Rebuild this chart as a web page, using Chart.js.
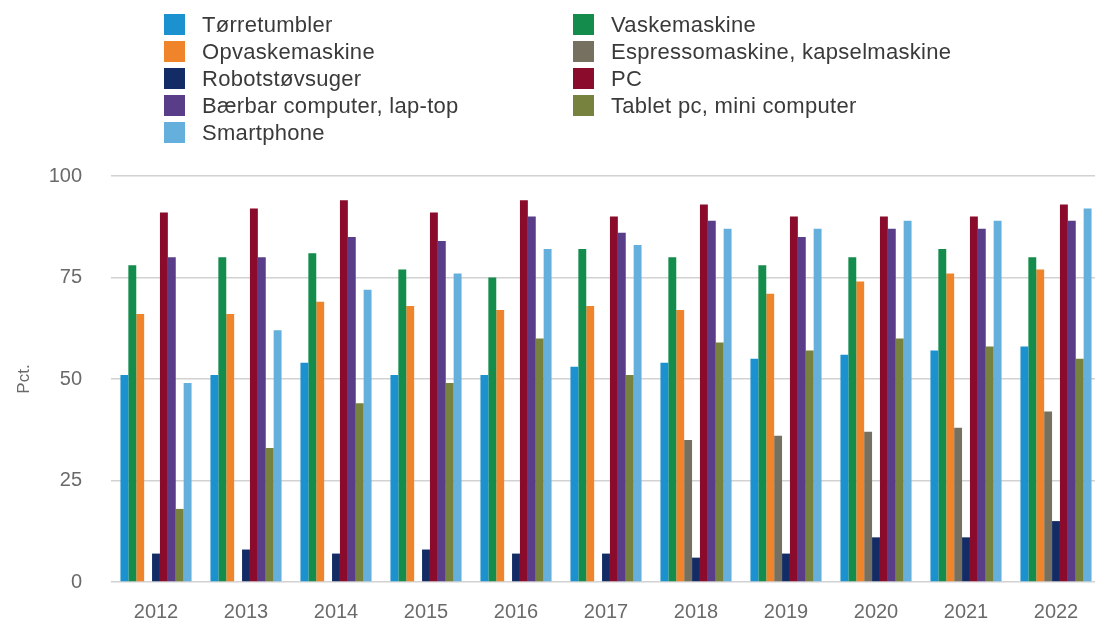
<!DOCTYPE html>
<html>
<head>
<meta charset="utf-8">
<script src="https://cdn.jsdelivr.net/npm/chart.js@4"></script>
<style>
  html, body { margin:0; padding:0; background:#fff; overflow:hidden; width:1095px; height:619px; }
  #wrap { position:relative; width:1101px; height:624px; }
  #chart { position:absolute; left:0; top:0; }
  .lg { position:absolute; font-family:"Liberation Sans", Arial, sans-serif; font-size:22px; letter-spacing:0.3px; color:#3a3a3a; line-height:21px; white-space:nowrap; }
  .lg i { position:absolute; left:0; top:0; width:21px; height:21px; }
  .lg span { position:absolute; left:38px; top:0; }
</style>
</head>
<body>
<div id="wrap">
  <canvas id="chart" width="1101" height="624"></canvas>
  <div id="legend"></div>
</div>
<script>
/* ---- data ---- */
const years = ['2012','2013','2014','2015','2016','2017','2018','2019','2020','2021','2022'];

const torretumbler = [51, 51, 54, 51, 51, 53, 54, 55, 56, 57, 58];
const vaskemaskine = [78, 80, 81, 77, 75, 82, 80, 78, 80, 82, 80];
const opvaskemaskine = [66, 66, 69, 68, 67, 68, 67, 71, 74, 76, 77];
const espresso = [null, null, null, null, null, null, 35, 36, 37, 38, 42];
const robot = [7, 8, 7, 8, 7, 7, 6, 7, 11, 11, 15];
const pc = [91, 92, 94, 91, 94, 90, 93, 90, 90, 90, 93];
const baerbar = [80, 80, 85, 84, 90, 86, 89, 85, 87, 87, 89];
const tablet = [18, 33, 44, 49, 60, 51, 59, 57, 60, 58, 55];
const smartphone = [49, 62, 72, 76, 82, 83, 87, 87, 89, 89, 92];

const seriesNames = ['Tørretumbler', 'Vaskemaskine', 'Opvaskemaskine', 'Espressomaskine, kapselmaskine',
  'Robotstøvsuger', 'PC', 'Bærbar computer, lap-top', 'Tablet pc, mini computer', 'Smartphone'];
const seriesData = [torretumbler, vaskemaskine, opvaskemaskine, espresso, robot, pc, baerbar, tablet, smartphone];
const seriesColors = ['#1b92cf', '#138c4c', '#f0842a', '#767060', '#142c66', '#8a0b2b', '#5a3d89', '#77823f', '#65afdd'];

const yTicks = [0, 25, 50, 75, 100];

/* ---- legend (2 columns, row-major like the original) ---- */
const legend = document.getElementById('legend');
seriesNames.forEach((name, i) => {
  const col = i % 2, row = Math.floor(i / 2);
  const d = document.createElement('div');
  d.className = 'lg';
  d.style.left = (col === 0 ? 164 : 573) + 'px';
  d.style.top = (14 + row * 27) + 'px';
  d.innerHTML = `<i style="background:${seriesColors[i]}"></i><span>${name}</span>`;
  legend.appendChild(d);
});

/* ---- chart ---- */
const ctx = document.getElementById('chart').getContext('2d');
new Chart(ctx, {
  type: 'bar',
  data: {
    labels: years,
    datasets: seriesNames.map((name, i) => ({
      label: name,
      data: seriesData[i],
      backgroundColor: seriesColors[i],
      borderWidth: 0,
      categoryPercentage: 0.79,
      barPercentage: 1,
    })),
  },
  options: {
    responsive: false,
    animation: false,
    devicePixelRatio: 1,
    layout: { padding: { top: 176, right: 0, bottom: 0, left: 0 } },
    plugins: { legend: { display: false }, tooltip: { enabled: false } },
    scales: {
      x: {
        grid: { display: false },
        border: { display: false },
        ticks: { color: '#6a6a6a', font: { family: 'Liberation Sans', size: 20 }, padding: 10, maxRotation: 0 },
        afterFit(scale) { scale.height = 42; },
      },
      y: {
        min: 0, max: 100,
        afterBuildTicks(scale) { scale.ticks = yTicks.map(v => ({ value: v })); },
        grid: { color: '#d2d2d2', lineWidth: 1.5, drawTicks: false },
        border: { display: false },
        ticks: { color: '#6a6a6a', font: { family: 'Liberation Sans', size: 20 }, padding: 29 },
        title: { display: true, text: 'Pct.', color: '#6a6a6a', font: { family: 'Liberation Sans', size: 17 }, padding: { top: 14, bottom: 0 } },
        afterFit(scale) { scale.width = 111; },
      },
    },
  },
});
</script>
</body>
</html>
